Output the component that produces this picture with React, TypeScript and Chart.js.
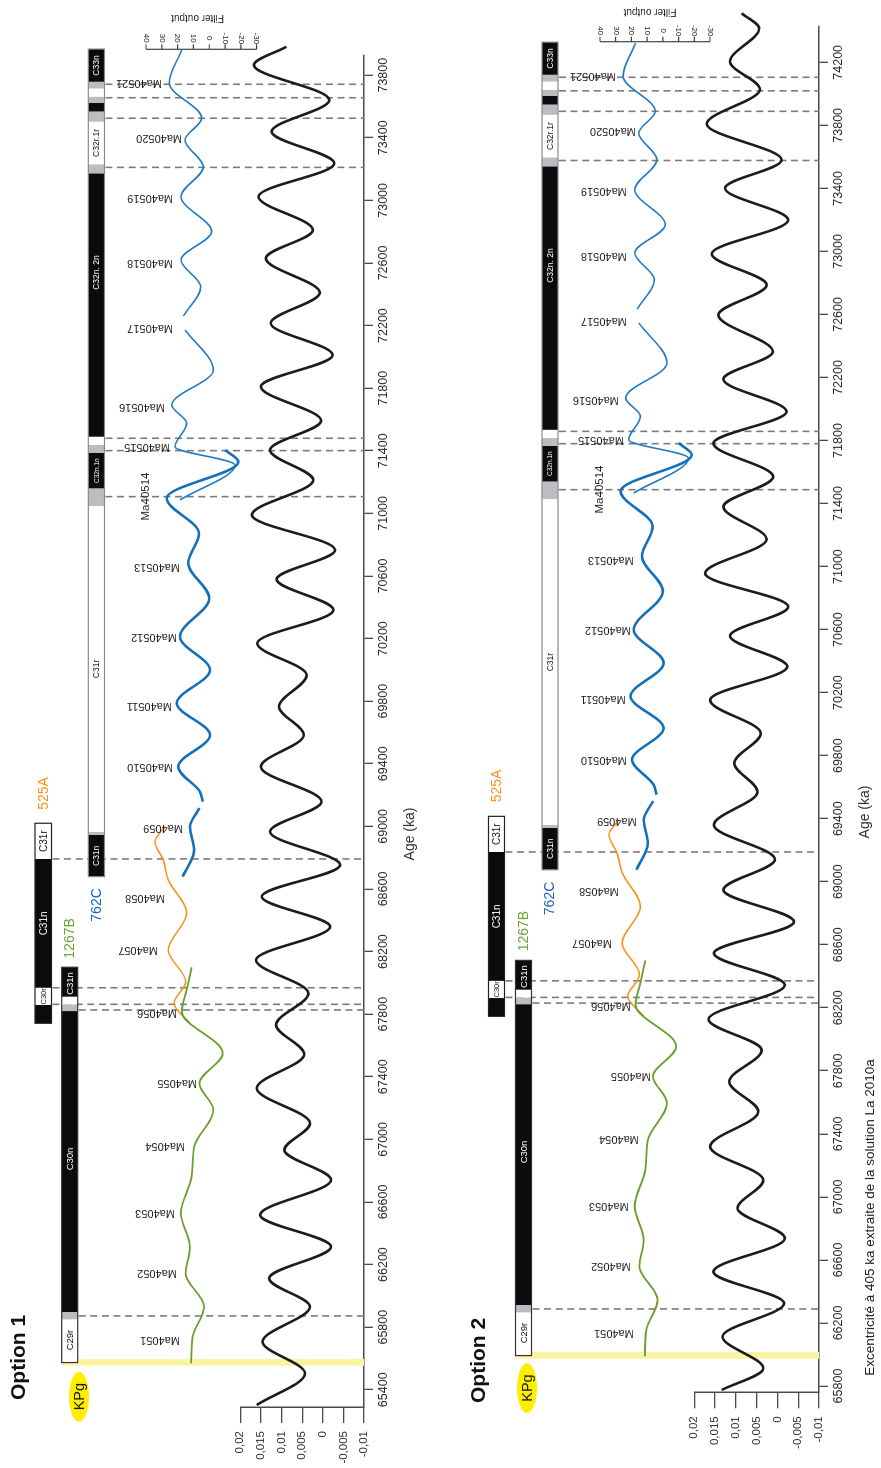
import React, { useEffect, useRef } from "react";
import { Chart, registerables } from "chart.js";

Chart.register(...registerables);

const FONT = "'Liberation Sans', Arial, Helvetica, sans-serif";

// ---------------- axes ----------------
const AGE_TICKS_OPT1 = [65400, 65800, 66200, 66600, 67000, 67400, 67800, 68200, 68600, 69000, 69400, 69800, 70200, 70600, 71000, 71400, 71800, 72200, 72600, 73000, 73400, 73800];
const AGE_TICKS_OPT2 = [65800, 66200, 66600, 67000, 67400, 67800, 68200, 68600, 69000, 69400, 69800, 70200, 70600, 71000, 71400, 71800, 72200, 72600, 73000, 73400, 73800, 74200];
const AGE_RANGE_OPT1 = [65290, 73929];
const AGE_RANGE_OPT2 = [65760, 74426];
const ECC_TICKS = [-0.01, -0.005, 0, 0.005, 0.01, 0.015, 0.02];
const ECC_TICK_LABELS = ["-0,01", "-0,005", "0", "0,005", "0,01", "0,015", "0,02"];
const ECC_RANGE = [-0.01, 0.02];
const FILTER_TICKS = [40, 30, 20, 10, 0, -10, -20, -30];

// ---------------- 405-ka eccentricity (La2010a), extrema ----------------
const ECC1_AGE = [65303, 65505, 65707, 65931, 66112, 66314, 66517, 66741, 66932, 67103, 67327, 67544, 67731, 67934, 68146, 68359, 68551, 68753, 68966, 69158, 69381, 69584, 69765, 69967, 70170, 70383, 70579, 70766, 70990, 71213, 71405, 71592, 71810, 72012, 72215, 72410, 72630, 72811, 73024, 73237, 73439, 73642, 73865, 73982];
const ECC1_VAL = [0.0160, 0.0043, 0.0146, 0.0031, 0.0130, -0.0020, 0.0152, -0.0020, 0.0093, 0.0031, 0.0160, 0.0045, 0.0113, 0.0035, 0.0162, -0.0018, 0.0148, -0.0042, 0.0128, 0.0003, 0.0150, 0.0046, 0.0106, 0.0039, 0.0159, -0.0026, 0.0112, -0.0030, 0.0172, 0.0023, 0.0128, 0.0004, 0.0150, -0.0024, 0.0126, 0.0007, 0.0138, 0.0024, 0.0156, -0.0028, 0.0124, -0.0016, 0.0167, 0.0088];
const ECC2_AGE = [65775, 65912, 66113, 66325, 66525, 66737, 66928, 67107, 67319, 67541, 67731, 67932, 68127, 68345, 68546, 68746, 68948, 69142, 69360, 69571, 69752, 69942, 70153, 70365, 70560, 70745, 70957, 71173, 71380, 71570, 71782, 71983, 72189, 72364, 72597, 72787, 72984, 73199, 73401, 73580, 73809, 74029, 74204, 74416, 74511];
const ECC2_VAL = [0.0134, 0.0034, 0.0132, -0.0016, 0.0154, -0.0018, 0.0096, 0.0034, 0.0162, 0.0046, 0.0116, 0.0038, 0.0166, -0.0018, 0.0153, -0.0040, 0.0130, 0.0006, 0.0153, 0.0048, 0.0104, 0.0040, 0.0162, -0.0024, 0.0114, -0.0026, 0.0174, 0.0026, 0.0130, 0.0010, 0.0154, -0.0022, 0.0130, 0.0011, 0.0142, 0.0026, 0.0158, -0.0026, 0.0126, -0.0010, 0.0170, 0.0042, 0.0114, 0.0044, 0.0086];

// ---------------- filter output records ----------------
// 1267B (green)
const GREEN_VAL = [11.5, 10.5, 3.3, 14.9, 12.2, 17.9, 11.1, 9.5, -2.6, 6.3, -8.5, 17.4, 14.3, 11.1];
const GREEN_AGE_OPT1 = [65569, 65739, 65931, 66144, 66314, 66528, 66762, 66953, 67188, 67358, 67550, 67816, 67955, 68100];
const GREEN_AGE_OPT2 = [65988, 66157, 66347, 66559, 66728, 66940, 67173, 67362, 67596, 67765, 67955, 68219, 68357, 68501];
// 525A (orange)
const ORANGE_VAL = [12.2, 22.3, 14.9, 25.9, 14.3, 25.9, 29.1, 34.3, 28.0];
const ORANGE_AGE_OPT1 = [67742, 67870, 68008, 68210, 68445, 68658, 68785, 68902, 68998];
const ORANGE_AGE_OPT2 = [68146, 68273, 68410, 68611, 68844, 69056, 69182, 69298, 69393];
// 762C (blue), four pieces
const BLUE_A_VAL = [16.8, 9.6, 12.2, 6.2];
const BLUE_A_AGE_OPT1 = [68679, 68849, 68996, 69118];
const BLUE_A_AGE_OPT2 = [69076, 69245, 69391, 69512];
const BLUE_B_VAL = [4.1, 5.9, 19.6, -0.5, 20.6, -0.5, 18.5, 0.0, 13.3, 6.5, 26.9, -18.4, -10.0];
const BLUE_B_AGE_OPT1 = [69158, 69222, 69381, 69584, 69787, 69999, 70212, 70458, 70681, 70873, 71098, 71330, 71405];
const BLUE_B_AGE_OPT2 = [69552, 69616, 69774, 69975, 70177, 70387, 70599, 70843, 71065, 71255, 71479, 71709, 71784];
const BLUE_C_VAL = [18.5, -16.3, 21.7, 14.3, 23.7, -2.6, 15.3];
const BLUE_C_AGE_OPT1 = [71086, 71309, 71426, 71576, 71693, 71916, 72172];
const BLUE_C_AGE_OPT2 = [71467, 71688, 71805, 71954, 72070, 72291, 72546];
const BLUE_D_VAL = [16.4, 5.4, 17.9, -1.5, 17.9, 3.8, 15.3, 4.8, 25.3, 17.4];
const BLUE_D_AGE_OPT1 = [72261, 72449, 72619, 72800, 73024, 73215, 73386, 73525, 73750, 73961];
const BLUE_D_AGE_OPT2 = [72634, 72821, 72990, 73169, 73392, 73582, 73751, 73889, 74113, 74322];

// ---------------- magnetostratigraphy ----------------
const CHRON_A_FILLS = ["k", "g", "w", "g", "k", "g", "w", "k", "g", "w", "g", "k", "g", "w", "g", "k"];
const CHRON_A_OPT1 = [68679, 68945, 68966, 71047, 71160, 71386, 71437, 71490, 73173, 73231, 73503, 73568, 73624, 73663, 73715, 73758, 73967];
const CHRON_A_OPT2 = [69076, 69341, 69362, 71428, 71540, 71765, 71816, 71868, 73540, 73597, 73867, 73932, 73988, 74026, 74078, 74121, 74328];
const CHRON_B_FILLS = ["k", "w", "k", "w"];
const CHRON_B_OPT1 = [67742, 67859, 67969, 68792, 69020];
const CHRON_B_OPT2 = [68146, 68262, 68371, 69189, 69415];
const CHRON_C_FILLS = ["w", "g", "k", "g", "w", "k"];
const CHRON_C_OPT1 = [65574, 65850, 65897, 67820, 67863, 67912, 68100];
const CHRON_C_OPT2 = [65993, 66267, 66314, 68223, 68266, 68315, 68501];

const CHRON_LABEL_TEXT = ["C33n", "C32r.1r", "C32n. 2n", "C32n.1n", "C31r", "C31n", "C31r", "C31n", "C30r", "C31n", "C30n", "C29r"];
const CHRON_LABEL_COL = ["A", "A", "A", "A", "A", "A", "B", "B", "B", "C", "C", "C"];
const CHRON_LABEL_OPT1 = [73862, 73367, 72539, 71273, 70006, 68812, 68906, 68380, 67914, 67996, 66875, 65718];
const CHRON_LABEL_OPT2 = [74224, 73732, 72910, 71653, 70394, 69209, 69302, 68780, 68317, 68398, 67285, 66136];

const DASH_COL = ["A", "A", "A", "A", "A", "A", "A", "B", "B", "B", "C", "C"];
const DASH_OPT1 = [73742, 73656, 73525, 73211, 71480, 71401, 71107, 68792, 67969, 67863, 67827, 65872];
const DASH_OPT2 = [74105, 74019, 73889, 73577, 71858, 71780, 71488, 69189, 68371, 68266, 68230, 66289];

const KPG_BAND_OPT1 = [65554, 65597];
const KPG_BAND_OPT2 = [65973, 66016];
const KPG_LABEL_OPT1 = 65356;
const KPG_LABEL_OPT2 = 65787;

const SITE_NAMES = ["525A", "1267B", "762C"];
const SITE_COL = ["B", "C", "A"];
const SITE_OPT1 = [69210, 68284, 68498];
const SITE_OPT2 = [69608, 68687, 68894];

const MA405_NAMES = ["Ma4051", "Ma4052", "Ma4053", "Ma4054", "Ma4055", "Ma4056", "Ma4057", "Ma4058", "Ma4059", "Ma40510", "Ma40511", "Ma40512", "Ma40513", "Ma40514", "Ma40515", "Ma40516", "Ma40517", "Ma40518", "Ma40519", "Ma40520", "Ma40521"];
const MA405_VAL = [18.5, 20.4, 21.7, 15.3, 7.7, 20.4, 32.4, 28.0, 16.6, 22.9, 23.6, 20.4, 18.5, 40, 24.8, 28.0, 22.9, 22.9, 22.9, 17.2, 29.9];
const MA405_OPT1 = [65718, 66144, 66528, 66958, 67358, 67806, 68210, 68541, 68992, 69378, 69769, 70212, 70659, 71108, 71426, 71682, 72183, 72602, 73013, 73397, 73748];
const MA405_OPT2 = [66136, 66559, 66940, 67367, 67765, 68209, 68611, 68940, 69387, 69771, 70159, 70599, 71043, 71489, 71805, 72059, 72556, 72973, 73381, 73762, 74111];
const MA405_UPRIGHT = "Ma40514";

const TITLE_OPT1 = "Option 1";
const TITLE_OPT2 = "Option 2";
const AGE_TITLE = "Age (ka)";
const FILTER_TITLE = "Filter output";
const NOTE = "Excentricité à 405 ka extraite de la solution La 2010a";

// ---------------- styles / layout ----------------
const FILL: Record<string, string> = { k: "#0b0b0e", g: "#bcbdc0", w: "#ffffff" };
const SITE_COLORS = ["#f7941d", "#6aa53a", "#2364b6"];
const COL_FONT: Record<string, number> = { A: 8.5, B: 10, C: 9.5 };
const CHRON_FONT_OVERRIDE: Record<string, number> = { "C32n.1n": 6.5, "C30r": 7.5 };
const COL_OUTLINE: Record<string, string> = { A: "#8a8a8a", B: "#222", C: "#333" };

const W = 1468;
const LAYOUT_OPT1 = {
  top: 0, height: 454, areaLeft: 61, areaRight: 1413, areaTop: 240.3, areaBottom: 364,
  filterAxisX: 1418.7, filter40: 146, filterM30: 256.7, filterTitleX: 1450, filterTitleY: 197.5,
  titleX: 68, titleBaseline: 25, ageTitleX: 634, ageTitleY: 410, kpgY: 79,
  cols: { A: [88.3, 104.5], B: [35, 51.5], C: [61.7, 77.7] } as Record<string, number[]>,
  note: false, noteX: 0, noteY: 0,
};
const LAYOUT_OPT2 = {
  top: 454, height: 427, areaLeft: 75.7, areaRight: 1441.3, areaTop: 240.3, areaBottom: 365,
  filterAxisX: 1426.3, filter40: 146, filterM30: 256, filterTitleX: 1456, filterTitleY: 196,
  titleX: 65, titleBaseline: 31, ageTitleX: 656, ageTitleY: 411, kpgY: 73,
  cols: { A: [88, 104], B: [34.5, 50.5], C: [61.5, 77.5] } as Record<string, number[]>,
  note: true, noteX: 250.5, noteY: 416,
};

const OPT1 = {
  title: TITLE_OPT1, ageTicks: AGE_TICKS_OPT1, ageRange: AGE_RANGE_OPT1,
  ecc: [ECC1_AGE, ECC1_VAL], green: GREEN_AGE_OPT1, orange: ORANGE_AGE_OPT1,
  blueA: BLUE_A_AGE_OPT1, blueB: BLUE_B_AGE_OPT1, blueC: BLUE_C_AGE_OPT1, blueD: BLUE_D_AGE_OPT1,
  chronA: CHRON_A_OPT1, chronB: CHRON_B_OPT1, chronC: CHRON_C_OPT1, chronLabels: CHRON_LABEL_OPT1,
  dashes: DASH_OPT1, band: KPG_BAND_OPT1, kpg: KPG_LABEL_OPT1, sites: SITE_OPT1, ma405: MA405_OPT1,
};
const OPT2 = {
  title: TITLE_OPT2, ageTicks: AGE_TICKS_OPT2, ageRange: AGE_RANGE_OPT2,
  ecc: [ECC2_AGE, ECC2_VAL], green: GREEN_AGE_OPT2, orange: ORANGE_AGE_OPT2,
  blueA: BLUE_A_AGE_OPT2, blueB: BLUE_B_AGE_OPT2, blueC: BLUE_C_AGE_OPT2, blueD: BLUE_D_AGE_OPT2,
  chronA: CHRON_A_OPT2, chronB: CHRON_B_OPT2, chronC: CHRON_C_OPT2, chronLabels: CHRON_LABEL_OPT2,
  dashes: DASH_OPT2, band: KPG_BAND_OPT2, kpg: KPG_LABEL_OPT2, sites: SITE_OPT2, ma405: MA405_OPT2,
};

function pts(ages: number[], vals: number[]) {
  return ages.map((a, i) => ({ x: a, y: vals[i] }));
}

function font(size: number, bold = false) {
  return `${bold ? "bold " : ""}${size}px ${FONT}`;
}

function makeDecor(D: any, L: any) {
  const columns: Record<string, { b: number[]; f: string[] }> = {
    A: { b: D.chronA, f: CHRON_A_FILLS },
    B: { b: D.chronB, f: CHRON_B_FILLS },
    C: { b: D.chronC, f: CHRON_C_FILLS },
  };
  return {
    id: "decor",
    beforeDatasetsDraw(chart: any) {
      const ctx = chart.ctx;
      const xs = chart.scales.x;
      const area = chart.chartArea;
      ctx.save();
      // KPg band
      const b0 = xs.getPixelForValue(D.band[0]);
      const b1 = xs.getPixelForValue(D.band[1]);
      ctx.fillStyle = "#fcf3a0";
      ctx.fillRect(b0, L.cols.C[0], b1 - b0, area.bottom - L.cols.C[0]);
      // dashed chron boundaries
      ctx.strokeStyle = "#7b7b7b";
      ctx.lineWidth = 1.6;
      ctx.setLineDash([7, 4.6]);
      D.dashes.forEach((age: number, i: number) => {
        const x = xs.getPixelForValue(age);
        const y0 = L.cols[DASH_COL[i]][1];
        ctx.beginPath();
        ctx.moveTo(x, y0 + 1);
        ctx.lineTo(x, area.bottom);
        ctx.stroke();
      });
      ctx.setLineDash([]);
      ctx.restore();
    },
    afterDatasetsDraw(chart: any) {
      const ctx = chart.ctx;
      const xs = chart.scales.x;
      const yf = chart.scales.yF;
      ctx.save();
      // chron columns
      Object.keys(columns).forEach((key) => {
        const { b, f } = columns[key];
        const [y0, y1] = L.cols[key];
        for (let i = 0; i < f.length; i++) {
          const a = xs.getPixelForValue(b[i]);
          const c = xs.getPixelForValue(b[i + 1]);
          ctx.fillStyle = FILL[f[i]];
          ctx.fillRect(a, y0, c - a, y1 - y0);
        }
        const a = xs.getPixelForValue(b[0]);
        const c = xs.getPixelForValue(b[b.length - 1]);
        ctx.strokeStyle = COL_OUTLINE[key];
        ctx.lineWidth = 1.2;
        ctx.strokeRect(a, y0, c - a, y1 - y0);
      });
      // chron labels
      ctx.textAlign = "center";
      ctx.textBaseline = "middle";
      CHRON_LABEL_TEXT.forEach((txt, i) => {
        const key = CHRON_LABEL_COL[i];
        const age = D.chronLabels[i];
        const { b, f } = columns[key];
        let fill = "w";
        for (let j = 0; j < f.length; j++) if (age >= b[j] && age <= b[j + 1]) fill = f[j];
        const [y0, y1] = L.cols[key];
        ctx.fillStyle = fill === "k" ? "#ffffff" : "#111111";
        ctx.font = font(CHRON_FONT_OVERRIDE[txt] || COL_FONT[key]);
        ctx.fillText(txt, xs.getPixelForValue(age), (y0 + y1) / 2 + 0.5);
      });
      // site labels
      SITE_NAMES.forEach((s, i) => {
        const [y0, y1] = L.cols[SITE_COL[i]];
        ctx.fillStyle = SITE_COLORS[i];
        ctx.font = font(14);
        ctx.fillText(s, xs.getPixelForValue(D.sites[i]), (y0 + y1) / 2 + 0.5);
      });
      // Ma405 labels
      ctx.fillStyle = "#231f20";
      MA405_NAMES.forEach((name, i) => {
        const x = xs.getPixelForValue(D.ma405[i]);
        const y = yf.getPixelForValue(MA405_VAL[i]);
        if (name === MA405_UPRIGHT) {
          ctx.font = font(11.5);
          ctx.textAlign = "center";
          ctx.fillText(name, x, y);
        } else {
          ctx.save();
          ctx.translate(x, y);
          ctx.rotate(-Math.PI / 2);
          ctx.font = font(11);
          ctx.textAlign = "left";
          ctx.textBaseline = "middle";
          ctx.fillText(name, 0, 0);
          ctx.restore();
        }
      });
      // KPg marker
      const kx = xs.getPixelForValue(D.kpg);
      ctx.fillStyle = "#ffee00";
      ctx.beginPath();
      ctx.ellipse(kx, L.kpgY, 25, 10, 0, 0, Math.PI * 2);
      ctx.fill();
      ctx.fillStyle = "#1a1a1a";
      ctx.font = font(14.5);
      ctx.textAlign = "center";
      ctx.textBaseline = "middle";
      ctx.fillText("KPg", kx, L.kpgY + 1);
      // option title
      ctx.font = font(21, true);
      ctx.textAlign = "left";
      ctx.textBaseline = "alphabetic";
      ctx.fillStyle = "#111";
      ctx.fillText(D.title, L.titleX, L.titleBaseline);
      // age axis title
      ctx.font = font(14);
      ctx.textAlign = "center";
      ctx.textBaseline = "middle";
      ctx.fillStyle = "#333";
      ctx.fillText(AGE_TITLE, L.ageTitleX, L.ageTitleY);
      if (L.note) {
        ctx.font = font(13.5);
        ctx.fillStyle = "#222";
        ctx.fillText(NOTE, L.noteX, L.noteY);
      }
      // filter output mini axis
      const fx = L.filterAxisX;
      const ft = yf.getPixelForValue(FILTER_TICKS[0]);
      const fb = yf.getPixelForValue(FILTER_TICKS[FILTER_TICKS.length - 1]);
      ctx.strokeStyle = "#444";
      ctx.lineWidth = 1.2;
      ctx.beginPath();
      ctx.moveTo(fx, ft);
      ctx.lineTo(fx, fb);
      FILTER_TICKS.forEach((v) => {
        const y = yf.getPixelForValue(v);
        ctx.moveTo(fx, y);
        ctx.lineTo(fx + 5, y);
      });
      ctx.stroke();
      ctx.fillStyle = "#222";
      ctx.font = font(8);
      FILTER_TICKS.forEach((v) => {
        const y = yf.getPixelForValue(v);
        ctx.save();
        ctx.translate(fx + 11, y);
        ctx.rotate(Math.PI);
        ctx.textAlign = "center";
        ctx.textBaseline = "middle";
        ctx.fillText(String(v), 0, 0);
        ctx.restore();
      });
      ctx.save();
      ctx.translate(L.filterTitleX, L.filterTitleY);
      ctx.rotate(-Math.PI / 2);
      ctx.font = font(10);
      ctx.textAlign = "center";
      ctx.textBaseline = "middle";
      ctx.fillText(FILTER_TITLE, 0, 0);
      ctx.restore();
      ctx.restore();
    },
  };
}

function buildChart(canvas: HTMLCanvasElement, D: any, L: any) {
  const ppu = (L.filterM30 - L.filter40) / 70;
  const fMax = 40 - (L.areaTop - L.filter40) / ppu;
  const fMin = -30 - (L.areaBottom - L.filterM30) / ppu;
  const line = (data: any, color: string, width: number, axis: string) => ({
    type: "line",
    data,
    borderColor: color,
    borderWidth: width,
    pointRadius: 0,
    pointHoverRadius: 0,
    fill: false,
    cubicInterpolationMode: "monotone",
    yAxisID: axis,
    clip: false,
  });
  const axisColor = "#4a4a4a";
  return new Chart(canvas, {
    type: "line",
    data: {
      datasets: [
        line(pts(D.ecc[0], D.ecc[1]), "#1c1c1c", 2.6, "y"),
        line(pts(D.green, GREEN_VAL), "#6a9e2e", 1.8, "yF"),
        line(pts(D.orange, ORANGE_VAL), "#f7941d", 1.6, "yF"),
        line(pts(D.blueA, BLUE_A_VAL), "#1570ba", 2.6, "yF"),
        line(pts(D.blueB, BLUE_B_VAL), "#1570ba", 2.6, "yF"),
        line(pts(D.blueC, BLUE_C_VAL), "#1f7bc3", 1.6, "yF"),
        line(pts(D.blueD, BLUE_D_VAL), "#1f7bc3", 1.6, "yF"),
      ] as any,
    },
    options: {
      responsive: false,
      animation: false,
      devicePixelRatio: 1,
      events: [],
      layout: { padding: { top: L.areaTop, bottom: 0, left: 0, right: W - L.areaRight } },
      elements: { line: { capBezierPoints: false }, point: { radius: 0 } },
      plugins: { legend: { display: false }, tooltip: { enabled: false }, title: { display: false } },
      scales: {
        x: {
          type: "linear",
          position: "bottom",
          bounds: "data",
          min: D.ageRange[0],
          max: D.ageRange[1],
          afterBuildTicks: (s: any) => {
            s.ticks = D.ageTicks.map((v: number) => ({ value: v }));
          },
          afterFit: (s: any) => {
            s.height = L.height - L.areaBottom;
          },
          ticks: {
            autoSkip: false,
            maxRotation: 0,
            minRotation: 0,
            padding: 3,
            color: "#2b2b2b",
            font: { family: FONT, size: 12.5 },
            callback: (v: any) => String(v),
          },
          grid: { drawOnChartArea: false, drawTicks: true, tickLength: 9, color: axisColor, lineWidth: 1.3 },
          border: { display: true, color: axisColor, width: 1.5 },
        },
        y: {
          type: "linear",
          position: "left",
          bounds: "data",
          min: ECC_RANGE[0],
          max: ECC_RANGE[1],
          afterBuildTicks: (s: any) => {
            s.ticks = ECC_TICKS.map((v) => ({ value: v }));
          },
          afterFit: (s: any) => {
            s.width = L.areaLeft;
          },
          ticks: {
            autoSkip: false,
            padding: 8,
            color: "#2b2b2b",
            font: { family: FONT, size: 11.5 },
            callback: (v: any) => ECC_TICK_LABELS[ECC_TICKS.indexOf(Number(v))],
          },
          grid: { drawOnChartArea: false, drawTicks: true, tickLength: 16, color: axisColor, lineWidth: 1.3 },
          border: { display: true, color: axisColor, width: 1.5 },
        },
        yF: { type: "linear", display: false, bounds: "data", min: fMin, max: fMax },
      },
    } as any,
    plugins: [makeDecor(D, L)],
  } as any);
}

export default function App() {
  const c1 = useRef<HTMLCanvasElement>(null);
  const c2 = useRef<HTMLCanvasElement>(null);
  useEffect(() => {
    document.documentElement.style.overflow = "hidden";
    document.body.style.overflow = "hidden";
    const ch1 = buildChart(c1.current as HTMLCanvasElement, OPT1, LAYOUT_OPT1);
    const ch2 = buildChart(c2.current as HTMLCanvasElement, OPT2, LAYOUT_OPT2);
    return () => {
      ch1.destroy();
      ch2.destroy();
    };
  }, []);
  return (
    <div
      style={{
        position: "absolute",
        left: 0,
        top: 0,
        width: W,
        height: 881,
        background: "#ffffff",
        transformOrigin: "0 0",
        transform: "translate(0px, 1468px) rotate(-90deg)",
      }}
    >
      <canvas ref={c1} width={W} height={LAYOUT_OPT1.height} style={{ position: "absolute", left: 0, top: LAYOUT_OPT1.top, width: W, height: LAYOUT_OPT1.height }} />
      <canvas ref={c2} width={W} height={LAYOUT_OPT2.height} style={{ position: "absolute", left: 0, top: LAYOUT_OPT2.top, width: W, height: LAYOUT_OPT2.height }} />
    </div>
  );
}
